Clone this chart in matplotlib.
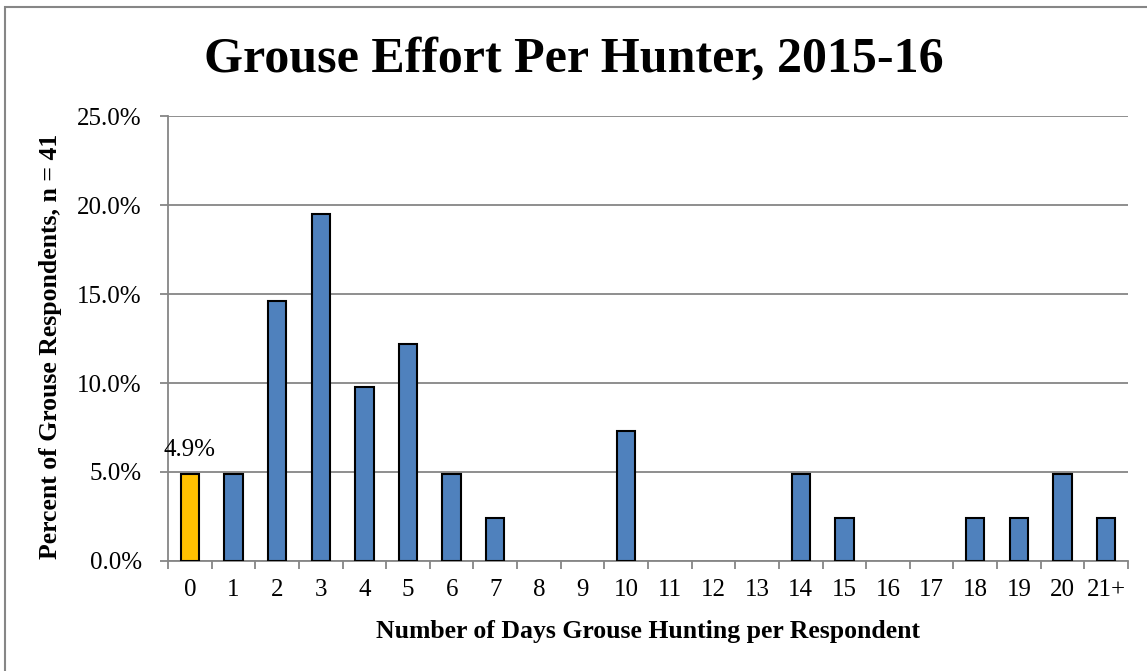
import matplotlib.pyplot as plt
import numpy as np
from matplotlib.patches import Rectangle

# data (share of 41 respondents, %)
days = ["0", "1", "2", "3", "4", "5", "6", "7", "8", "9", "10", "11",
        "12", "13", "14", "15", "16", "17", "18", "19", "20", "21+"]
counts = [2, 2, 6, 8, 4, 5, 2, 1, 0, 0, 3, 0, 0, 0, 2, 1, 0, 0, 1, 1, 2, 1]
n_resp = 41
pct = [100 * c / n_resp for c in counts]

plt.rcParams["font.family"] = ["Liberation Serif", "DejaVu Serif"]

fig = plt.figure(figsize=(11.47, 6.71), dpi=100)
ax = fig.add_axes([0.1465, 0.164, 0.8369, 0.663])

x = np.arange(len(days))
colors = ["#FFC000"] + ["#4F81BD"] * (len(days) - 1)
edges = ["black" if v > 0 else "none" for v in pct]
ax.bar(x, pct, width=0.42, color=colors, edgecolor=edges, linewidth=1.5, zorder=3)

# data label on first bar
ax.annotate(f"{pct[0]:.1f}%", (x[0], pct[0]), xytext=(0, 13), textcoords="offset points",
            ha="center", va="baseline", fontsize=18)

ax.set_xlim(-0.5, len(days) - 0.5)
ax.set_ylim(0, 25)
ax.set_yticks(np.arange(0, 26, 5))
ax.set_yticklabels([f"{v:.1f}%" for v in np.arange(0, 26, 5)], fontsize=18)
ax.yaxis.grid(True, color="#868686", linewidth=1.3, zorder=0)
ax.set_axisbelow(True)

ax.set_xticks(x)
ax.set_xticklabels(days, fontsize=18)
ax.tick_params(axis="x", length=0, pad=13)
ax.set_xticks(np.arange(-0.5, len(days)), minor=True)
ax.tick_params(axis="x", which="minor", length=6, color="#868686", width=1.3)
ax.tick_params(axis="y", length=6, color="#868686", width=1.3, pad=13)

for s in ["top", "right"]:
    ax.spines[s].set_visible(False)
for s in ["left", "bottom"]:
    ax.spines[s].set_color("#868686")
    ax.spines[s].set_linewidth(1.3)

fig.text(0.565, 0.049, "Number of Days Grouse Hunting per Respondent", fontsize=18.5,
         fontweight="bold", ha="center", va="baseline")
fig.text(0.0436, 0.484, "Percent of Grouse Respondents, n = 41", fontsize=18.5,
         fontweight="bold", ha="center", va="center", rotation=90)
fig.text(0.5, 0.893, "Grouse Effort Per Hunter, 2015-16", fontsize=36,
         fontweight="bold", ha="center", va="baseline")

# outer chart border (only top and left edges fall inside the image)
fig.patches.append(Rectangle((5 / 1147, -0.1), 1.2, 1.1 - 6.5 / 671,
                             transform=fig.transFigure, fill=False,
                             edgecolor="#868686", linewidth=1.5))

fig.savefig("out.png", dpi=100)
